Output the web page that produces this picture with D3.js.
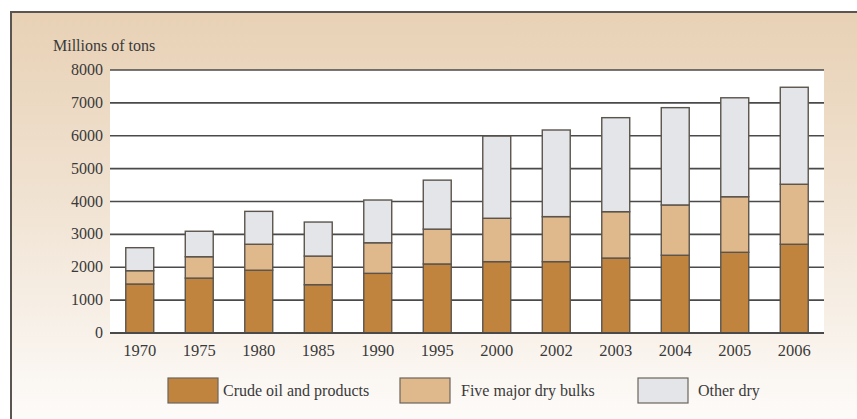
<!DOCTYPE html>
<html>
<head>
<meta charset="utf-8">
<script src="https://cdn.jsdelivr.net/npm/d3@7"></script>
<style>
  body { margin: 0; background: #fff; }
  svg text { font-family: "Liberation Serif", "DejaVu Serif", serif; fill: #3a3a3a; }
</style>
</head>
<body>
<div id="app"></div>
<script>
// values, millions of tons
var years = ["1970","1975","1980","1985","1990","1995","2000","2002","2003","2004","2005","2006"]
var crude = [1490,1670,1910,1470,1815,2100,2170,2170,2280,2365,2455,2700]
var fiveMajor = [405,650,790,870,930,1060,1320,1370,1410,1530,1690,1825]
var otherDry = [700,775,1000,1035,1300,1490,2500,2635,2860,2960,3010,2950]
var yTicks = [0,1000,2000,3000,4000,5000,6000,7000,8000]
var seriesNames = ["Crude oil and products","Five major dry bulks","Other dry"]
var seriesColours = ["#c0843f","#dfb98c","#e3e5e9"]

var W = 857, H = 419
var plot = {left:110, right:824, top:70, bottom:333}

var svg = d3.select("#app").append("svg").attr("width",W).attr("height",H)

var defs = svg.append("defs")
var grad = defs.append("linearGradient").attr("id","bg").attr("x1",0).attr("y1",0).attr("x2",0).attr("y2",1)
grad.append("stop").attr("offset","0%").attr("stop-color","#e8d1b5")
grad.append("stop").attr("offset","45%").attr("stop-color","#f0e2d1")
grad.append("stop").attr("offset","100%").attr("stop-color","#fdfbf9")

// beige panel with frame on top and left
svg.append("rect").attr("x",11).attr("y",12).attr("width",W-11).attr("height",H-12).attr("fill","url(#bg)")
svg.append("path").attr("d","M11,"+H+" V12 H"+W).attr("fill","none").attr("stroke","#5a5550").attr("stroke-width",2)

// white plot area
svg.append("rect").attr("x",plot.left).attr("y",plot.top).attr("width",plot.right-plot.left).attr("height",plot.bottom-plot.top).attr("fill","#fff")

var x = d3.scaleBand().domain(years).range([plot.left,plot.right]).paddingInner(0.53).paddingOuter(0.265)
var y = d3.scaleLinear().domain([0,8000]).range([plot.bottom,plot.top])

// gridlines
svg.selectAll(".grid").data(yTicks).enter().append("line")
  .attr("x1",plot.left).attr("x2",plot.right)
  .attr("y1",d=>y(d)).attr("y2",d=>y(d))
  .attr("stroke","#4a4a4a").attr("stroke-width",1.6)

svg.selectAll(".ylab").data(yTicks).enter().append("text")
  .attr("x",103).attr("y",d=>y(d)+5)
  .attr("text-anchor","end").attr("font-size",16)
  .text(d=>d)

svg.append("text").attr("x",53).attr("y",51).attr("font-size",16).text("Millions of tons")

// stacked bars
var table = years.map((yr,i)=>({year:yr, crude:crude[i], five:fiveMajor[i], other:otherDry[i]}))
var stack = d3.stack().keys(["crude","five","other"])(table)

svg.selectAll(".layer").data(stack).enter().append("g")
  .attr("fill",(d,i)=>seriesColours[i])
  .selectAll("rect").data(d=>d).enter().append("rect")
  .attr("x",d=>x(d.data.year))
  .attr("width",x.bandwidth())
  .attr("y",d=>y(d[1]))
  .attr("height",d=>y(d[0])-y(d[1]))
  .attr("stroke","#5b544c").attr("stroke-width",1.4)

// baseline redrawn on top
svg.append("line").attr("x1",plot.left).attr("x2",plot.right).attr("y1",y(0)).attr("y2",y(0))
  .attr("stroke","#4a4a4a").attr("stroke-width",1.8)

svg.selectAll(".xlab").data(years).enter().append("text")
  .attr("x",d=>x(d)+x.bandwidth()/2).attr("y",356)
  .attr("text-anchor","middle").attr("font-size",16.5)
  .text(d=>d)

// legend
var legendX = [168,400,638]
var legendTextX = [223,461,698]
var legend = svg.selectAll(".legend").data(seriesNames).enter().append("g")
legend.append("rect").attr("x",(d,i)=>legendX[i]).attr("y",378).attr("width",50).attr("height",25)
  .attr("fill",(d,i)=>seriesColours[i]).attr("stroke","#6b645c").attr("stroke-width",1.2)
legend.append("text").attr("x",(d,i)=>legendTextX[i]).attr("y",396).attr("font-size",16).text(d=>d)
</script>
</body>
</html>
